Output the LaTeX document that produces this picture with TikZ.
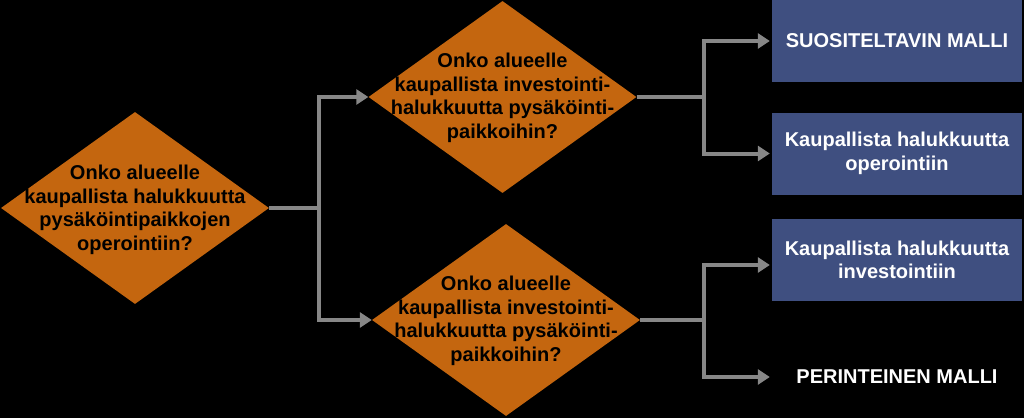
\documentclass[tikz,border=0pt]{standalone}
\usepackage{fontspec}
\setmainfont{Liberation Sans}
\usetikzlibrary{shapes.geometric,arrows.meta}
\definecolor{dorange}{HTML}{C4660F}
\definecolor{dblue}{HTML}{3F4F80}
\definecolor{cgray}{HTML}{878787}
\tikzset{
  dia/.style={shape=diamond, fill=dorange, draw=none, inner sep=0pt,
    minimum width=268pt, minimum height=192pt},
  dtext/.style={align=center, text=black, font=\fontsize{20}{23.5}\selectfont\bfseries, inner sep=0pt},
  outbox/.style={fill=dblue, draw=none, minimum width=250pt, minimum height=82pt, inner sep=0pt,
    align=center, text=white, font=\fontsize{20}{23.5}\selectfont\bfseries},
  plainout/.style={minimum width=250pt, minimum height=30pt, inner sep=0pt,
    align=center, text=white, font=\fontsize{20}{23.5}\selectfont\bfseries},
  conn/.style={draw=cgray, line width=4pt, -{Triangle[length=12pt,width=15pt]}},
}
\begin{document}
\begin{tikzpicture}[x=1pt,y=-1pt]
\fill[black] (0,0) rectangle (1024,418);
\useasboundingbox (0,0) rectangle (1024,418);

\node[dia] (d1) at (135,208) {};
\node[dtext] (t1) at (135,210) {Onko alueelle\\kaupallista halukkuutta\\pysäköintipaikkojen\\operointiin?};

\node[dia] (d2) at (502.5,97) {};
\node[dtext] (t2) at (502.5,98) {Onko alueelle\\kaupallista investointi-\\halukkuutta pysäköinti-\\paikkoihin?};

\node[dia] (d3) at (506,320) {};
\node[dtext] (t3) at (506,321) {Onko alueelle\\kaupallista investointi-\\halukkuutta pysäköinti-\\paikkoihin?};

\node[outbox] (b1) at (897,41) {SUOSITELTAVIN MALLI};
\node[outbox] (b2) at (897,153.5) {Kaupallista halukkuutta\\operointiin};
\node[outbox] (b3) at (897,260) {Kaupallista halukkuutta\\investointiin};
\node[plainout] (b4) at (897,377) {PERINTEINEN MALLI};

\coordinate (j1) at (319,208);
\coordinate (j2) at (704,97);
\coordinate (j3) at (704,320);

\draw[conn] (d1.east) -- (j1) |- (d2.west);
\draw[conn] (d1.east) -- (j1) |- (d3.west);
\draw[conn] (d2.east) -- (j2) |- ([xshift=-2pt]b1.west);
\draw[conn] (d2.east) -- (j2) |- ([xshift=-2pt]b2.west);
\draw[conn] (d3.east) -- (j3) |- ([xshift=-2pt,yshift=-5pt]b3.west);
\draw[conn] (d3.east) -- (j3) |- ([xshift=-2pt]b4.west);
\end{tikzpicture}
\end{document}
